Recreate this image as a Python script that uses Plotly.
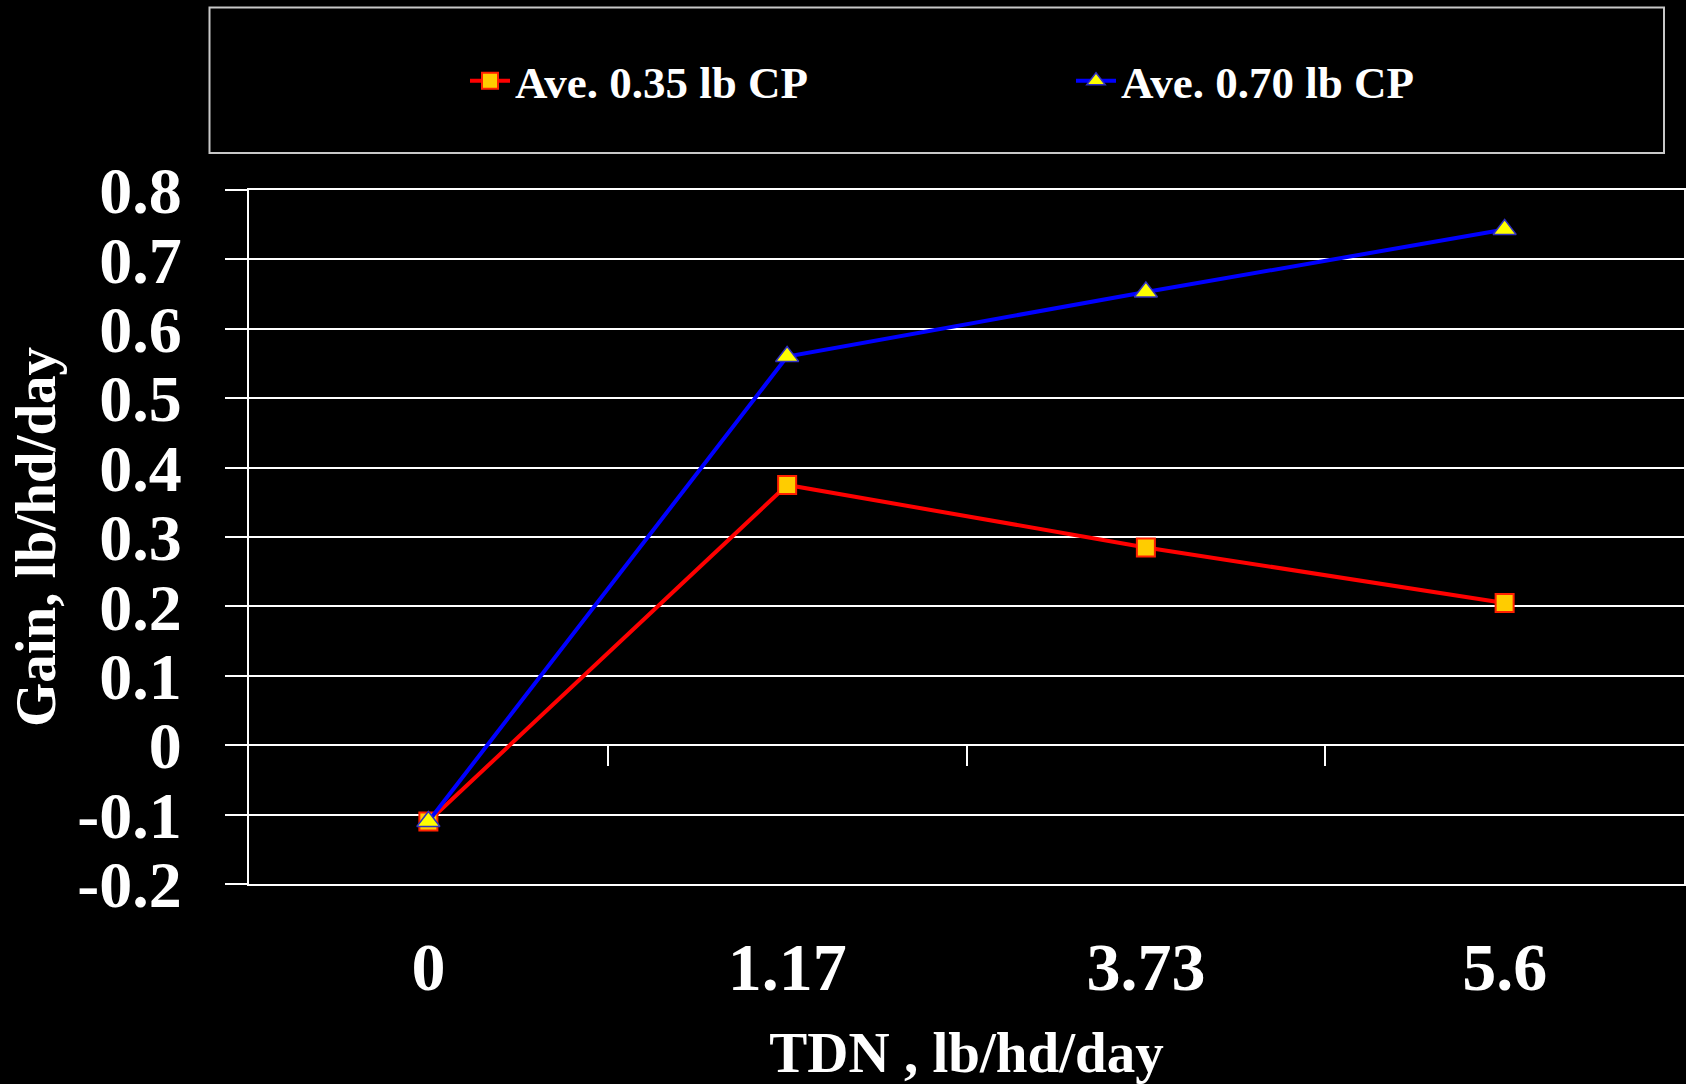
import plotly.graph_objects as go

# ---- data ----
categories = ["0", "1.17", "3.73", "5.6"]
series_names = ["Ave. 0.35 lb CP", "Ave. 0.70 lb CP"]
gain_035 = [-0.11, 0.375, 0.285, 0.205]
gain_070 = [-0.11, 0.56, 0.653, 0.743]
y_ticks = [0.8, 0.7, 0.6, 0.5, 0.4, 0.3, 0.2, 0.1, 0, -0.1, -0.2]
y_tick_labels = ["0.8", "0.7", "0.6", "0.5", "0.4", "0.3", "0.2", "0.1", "0", "-0.1", "-0.2"]
x_title = "TDN , lb/hd/day"
y_title = "Gain, lb/hd/day"

FONT = "Liberation Serif, Times New Roman, serif"
W, H = 1686, 1084
L, R, T, B = 249, 2, 190, 200

xpos = list(range(len(categories)))
boundaries = [i + 0.5 for i in xpos[:-1]]

fig = go.Figure()
fig.add_trace(go.Scatter(
    x=xpos, y=gain_035, name=series_names[0], mode="lines+markers",
    line=dict(color="#FF0000", width=4),
    marker=dict(symbol="square", size=18, color="#FFCC00",
                line=dict(color="#FF2000", width=2)),
))
fig.add_trace(go.Scatter(
    x=xpos, y=gain_070, name=series_names[1], mode="lines+markers",
    line=dict(color="#0000FF", width=4),
    marker=dict(symbol="triangle-up", size=20, color="#FFFF00",
                line=dict(color="#3030C0", width=1.5)),
))
# helper trace for the tick marks on the zero line
fig.add_trace(go.Scatter(x=[None], y=[None], xaxis="x2", showlegend=False,
                         hoverinfo="skip"))

pw = W - L - R
ph = H - T - B
def px_x(p):
    return (p - L) / pw
def px_y(p):
    return (H - B - p) / ph

fig.add_shape(type="rect", xref="paper", yref="paper",
              x0=px_x(209.5), x1=px_x(1664), y0=px_y(153), y1=px_y(7.5),
              line=dict(color="#C8C8C8", width=2), fillcolor="rgba(0,0,0,0)")

fig.update_layout(
    width=W, height=H,
    margin=dict(l=L, r=R, t=T, b=B, pad=0, autoexpand=False),
    paper_bgcolor="black", plot_bgcolor="black",
    font=dict(family=FONT, color="white", weight="bold"),
    showlegend=True,
    legend=dict(orientation="h", x=px_x(465), xanchor="left",
                y=px_y(81), yanchor="middle",
                font=dict(family=FONT, size=45, color="white", weight="bold"),
                bgcolor="rgba(0,0,0,0)", borderwidth=0,
                entrywidth=551, entrywidthmode="pixels", itemwidth=40),
    xaxis=dict(range=[-0.5, len(categories) - 0.5], tickmode="array",
               tickvals=xpos, ticktext=categories, ticks="",
               showgrid=False, zeroline=False,
               showline=True, linecolor="white", linewidth=2, mirror=True,
               tickfont=dict(family=FONT, size=68, color="white", weight="bold"),
               ticklabelstandoff=22,
               title=dict(text=x_title, standoff=46,
                          font=dict(family=FONT, size=57, color="white", weight="bold"))),
    xaxis2=dict(range=[-0.5, len(categories) - 0.5], overlaying="x",
                anchor="free", position=0.2, side="bottom",
                tickmode="array", tickvals=boundaries, ticks="outside",
                ticklen=20, tickwidth=2, tickcolor="white",
                showticklabels=False, showgrid=False, zeroline=False,
                showline=False),
    yaxis=dict(range=[-0.2, 0.8], tickmode="array", tickvals=y_ticks,
               ticktext=y_tick_labels, ticks="outside", ticklen=22,
               tickwidth=2, tickcolor="white",
               showgrid=True, gridcolor="white", gridwidth=2,
               zeroline=False, showline=True, linecolor="white", linewidth=2,
               mirror=True, ticklabelstandoff=30,
               tickfont=dict(family=FONT, size=66, color="white", weight="bold"),
               title=dict(text=y_title, standoff=3,
                          font=dict(family=FONT, size=57, color="white", weight="bold"))),
)

fig.write_html("out.html")
